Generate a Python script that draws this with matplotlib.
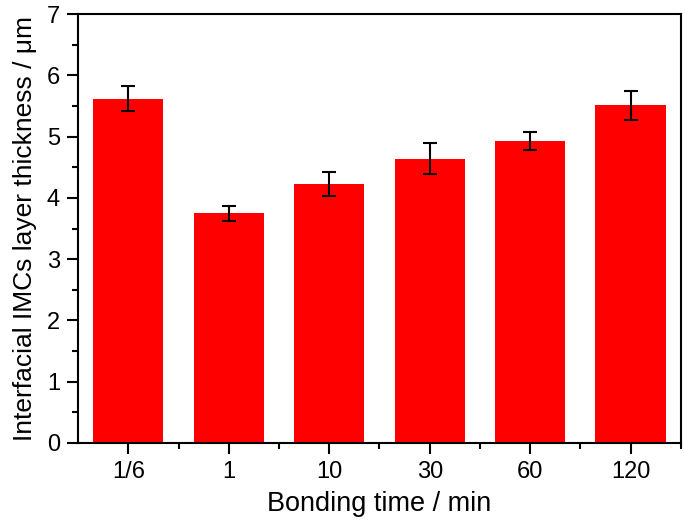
import numpy as np
import matplotlib
matplotlib.use('Agg')
import matplotlib.pyplot as plt
from matplotlib.ticker import MultipleLocator

# Data
times = ['1/6', '1', '10', '30', '60', '120']
thickness = [5.62, 3.75, 4.23, 4.64, 4.93, 5.51]
errors = [0.20, 0.12, 0.20, 0.25, 0.15, 0.23]

plt.rcParams['font.family'] = ['Liberation Sans', 'DejaVu Sans']

fig = plt.figure(figsize=(6.85, 5.26), dpi=100)
ax = fig.add_axes([0.114, 0.158, 0.880, 0.815])

x = np.arange(len(times))
ax.bar(x, thickness, width=0.7, color='#ff0000', zorder=2)
ax.errorbar(x, thickness, yerr=errors, fmt='none', ecolor='black',
            elinewidth=1.5, capsize=5, capthick=1.5, zorder=3)

ax.set_xlim(-0.5, 5.5)
ax.set_ylim(0, 7)
ax.set_xticks(x)
ax.set_xticklabels(times)
ax.set_xticks(x + 0.5, minor=True)
ax.yaxis.set_major_locator(MultipleLocator(1))
ax.yaxis.set_minor_locator(MultipleLocator(0.5))

ax.tick_params(axis='both', which='major', direction='out', length=8, width=1.5,
               labelsize=17, pad=5)
ax.tick_params(axis='both', which='minor', direction='out', length=4.5, width=1.5)
for s in ax.spines.values():
    s.set_linewidth(1.5)

ax.set_xlabel('Bonding time / min', fontsize=19.5, labelpad=6)
ax.set_ylabel('Interfacial IMCs layer thickness / \u03bcm', fontsize=19, labelpad=7)

fig.savefig('out.png', dpi=100)
